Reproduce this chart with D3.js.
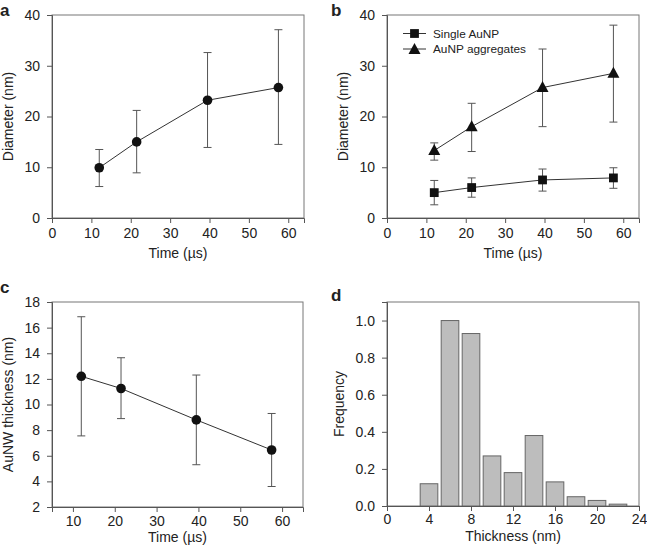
<!DOCTYPE html>
<html><head><meta charset="utf-8">
<script src="https://cdn.jsdelivr.net/npm/d3@7"></script>
<style>body{margin:0;background:#fff}svg{display:block}text{font-family:"Liberation Sans",Arial,sans-serif;fill:#222}</style>
</head><body><svg id="c" width="647" height="552"></svg>
<script>
// Panel a
const timeA = [12, 21.5, 39.5, 57.5];
const diamA = [9.9, 15.0, 23.2, 25.7];
const diamAHi = [13.5, 21.2, 32.6, 37.1];
const diamALo = [6.2, 8.9, 13.9, 14.5];
// Panel b
const timeB = [12, 21.5, 39.5, 57.5];
const singleB = [5.0, 6.0, 7.5, 7.9];
const singleHi = [7.4, 7.9, 9.65, 9.9];
const singleLo = [2.6, 4.1, 5.3, 5.85];
const aggrB = [13.3, 18.0, 25.7, 28.5];
const aggrHi = [14.8, 22.6, 33.3, 38.0];
const aggrLo = [11.4, 13.1, 18.0, 18.9];
const legendLabels = ["Single AuNP", "AuNP aggregates"];
// Panel c
const timeC = [12, 21.5, 39.5, 57.5];
const thickC = [12.2, 11.25, 8.8, 6.45];
const thickHi = [16.85, 13.65, 12.3, 9.3];
const thickLo = [7.55, 8.9, 5.3, 3.6];
// Panel d
const binCenters = [4, 6, 8, 10, 12, 14, 16, 18, 20, 22];
const freq = [0.12, 1.0, 0.93, 0.27, 0.18, 0.38, 0.13, 0.05, 0.03, 0.01];
const ticksTime = [0, 10, 20, 30, 40, 50, 60];
const ticksDiam = [0, 10, 20, 30, 40];
const ticksTimeC = [10, 20, 30, 40, 50, 60];
const ticksThickC = [2, 4, 6, 8, 10, 12, 14, 16, 18];
const ticksThickD = [0, 4, 8, 12, 16, 20, 24];
const ticksFreq = [0, 0.2, 0.4, 0.6, 0.8, 1.0];

const svg = d3.select("#c");
const AX = "#555", FS = 14;

function panel(o) {
  const g = svg.append("g");
  const x = d3.scaleLinear().domain(o.xd).range(o.xr);
  const y = d3.scaleLinear().domain(o.yd).range(o.yr);
  g.append("rect").attr("x", o.xr[0]).attr("y", o.yr[1]).attr("width", o.xr[1]-o.xr[0]).attr("height", o.yr[0]-o.yr[1])
    .attr("fill", "none").attr("stroke", "#777").attr("stroke-width", 1);
  const gx = g.append("g").attr("transform", `translate(0,${o.yr[0]})`);
  gx.call(d3.axisBottom(x).tickValues(o.xminor).tickSize(3).tickFormat(""));
  gx.call(d3.axisBottom(x).tickValues(o.xt).tickSize(5).tickPadding(o.xpad || 5).tickFormat(o.xf || d3.format("d")));
  const gy = g.append("g").attr("transform", `translate(${o.xr[0]},0)`);
  gy.call(d3.axisLeft(y).tickValues(o.yminor).tickSize(3).tickFormat(""));
  gy.call(d3.axisLeft(y).tickValues(o.yt).tickSize(5).tickPadding(7).tickFormat(o.yf || d3.format("d")));
  [gx, gy].forEach(a => {
    a.selectAll("path.domain").attr("stroke", AX);
    a.selectAll("line").attr("stroke", AX);
    a.selectAll("text").attr("font-size", FS).attr("fill", "#222").attr("font-family", '"Liberation Sans",Arial,sans-serif');
  });
  g.append("text").attr("x", (o.xr[0]+o.xr[1])/2).attr("y", o.xlabY).attr("text-anchor", "middle").attr("font-size", FS).text(o.xlab);
  g.append("text").attr("transform", `translate(${o.ylabX},${(o.yr[0]+o.yr[1])/2}) rotate(-90)`).attr("text-anchor", "middle").attr("font-size", FS).text(o.ylab);
  g.append("text").attr("x", o.letter[0]).attr("y", o.letter[1]).attr("font-size", 17).attr("font-weight", "bold").attr("fill", "#000").text(o.letterText);
  return {g, x, y};
}

function series(p, xs, ys, hi, lo, shape) {
  const {g, x, y} = p;
  xs.forEach((t, i) => {
    const eb = g.append("g").attr("stroke", "#555").attr("stroke-width", 1);
    eb.append("line").attr("x1", x(t)).attr("x2", x(t)).attr("y1", y(hi[i])).attr("y2", y(lo[i]));
    eb.append("line").attr("x1", x(t)-4).attr("x2", x(t)+4).attr("y1", y(hi[i])).attr("y2", y(hi[i]));
    eb.append("line").attr("x1", x(t)-4).attr("x2", x(t)+4).attr("y1", y(lo[i])).attr("y2", y(lo[i]));
  });
  const line = d3.line().x((d, i) => x(xs[i])).y(d => y(d));
  g.append("path").datum(ys).attr("d", line).attr("fill", "none").attr("stroke", "#333").attr("stroke-width", 1);
  ys.forEach((v, i) => drawMarker(g, x(xs[i]), y(v), shape));
}

function drawMarker(g, cx, cy, shape) {
  if (shape === "circle") g.append("circle").attr("cx", cx).attr("cy", cy).attr("r", 4.8).attr("fill", "#111");
  else if (shape === "square") g.append("rect").attr("x", cx-4.4).attr("y", cy-4.4).attr("width", 8.8).attr("height", 8.8).attr("fill", "#111");
  else g.append("path").attr("d", `M${cx},${cy-6.5}L${cx+6},${cy+4.5}L${cx-6},${cy+4.5}Z`).attr("fill", "#111");
}

const minor = (a, b, s) => d3.range(a, b + 1e-9, s);

// a
const pa = panel({xd: [0, 64], xr: [52, 304], yd: [0, 40], yr: [218, 15],
  xt: ticksTime, xminor: minor(0, 64, 5), yt: ticksDiam, yminor: minor(0, 40, 5),
  xlab: "Time (µs)", xlabY: 258, ylab: "Diameter (nm)", ylabX: 13, letter: [0, 16], letterText: "a"});
series(pa, timeA, diamA, diamAHi, diamALo, "circle");

// b
const pb = panel({xd: [0, 64], xr: [387, 639], yd: [0, 40], yr: [218, 15],
  xt: ticksTime, xminor: minor(0, 64, 5), yt: ticksDiam, yminor: minor(0, 40, 5),
  xlab: "Time (µs)", xlabY: 258, ylab: "Diameter (nm)", ylabX: 348, letter: [331, 16], letterText: "b"});
series(pb, timeB, singleB, singleHi, singleLo, "square");
series(pb, timeB, aggrB, aggrHi, aggrLo, "triangle");
legendLabels.forEach((lab, i) => {
  const ly = 33.5 + i * 15.5;
  pb.g.append("line").attr("x1", 403).attr("x2", 426).attr("y1", ly).attr("y2", ly).attr("stroke", "#333");
  drawMarker(pb.g, 414.5, ly + (i === 1 ? 0.5 : 0), i === 0 ? "square" : "triangle");
  pb.g.append("text").attr("x", 433).attr("y", ly + 4).attr("font-size", 11.8).text(lab);
});

// c
const pc = panel({xd: [5, 65], xr: [52, 303], yd: [2, 18], yr: [507, 302],
  xt: ticksTimeC, xminor: minor(5, 65, 5), yt: ticksThickC, yminor: minor(2, 18, 1), xpad: 4,
  xlab: "Time (µs)", xlabY: 542, ylab: "AuNW thickness (nm)", ylabX: 13, letter: [0, 293], letterText: "c"});
series(pc, timeC, thickC, thickHi, thickLo, "circle");

// d
const pd = panel({xd: [0, 24], xr: [387, 639], yd: [0, 1.1], yr: [506, 302],
  xt: ticksThickD, xminor: minor(0, 24, 4/3), yt: ticksFreq, yminor: minor(0, 1.1, 0.1), xpad: 3,
  yf: d3.format(".1f"),
  xlab: "Thickness (nm)", xlabY: 541, ylab: "Frequency", ylabX: 344, letter: [331, 301], letterText: "d"});
pd.g.insert("g", ":nth-child(2)").selectAll("rect").data(freq).join("rect")
  .attr("x", (d, i) => pd.x(binCenters[i] - 0.84)).attr("width", pd.x(1.68) - pd.x(0))
  .attr("y", d => pd.y(d)).attr("height", d => pd.y(0) - pd.y(d))
  .attr("fill", "#bdbdbd").attr("stroke", "#666").attr("stroke-width", 1);
</script></body></html>
